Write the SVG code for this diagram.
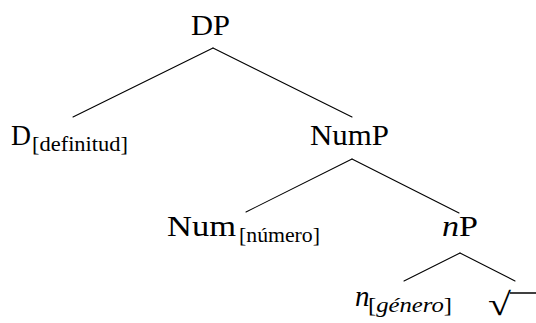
<svg xmlns="http://www.w3.org/2000/svg" width="536" height="323" viewBox="0 0 536 323">
<rect width="536" height="323" fill="#fff"/>
<g id="connectors" stroke="#000" stroke-width="1.1" fill="none" stroke-linecap="round">
  <line x1="213" y1="48" x2="73" y2="117"/>
  <line x1="213" y1="48" x2="352" y2="117"/>
  <line x1="352" y1="159" x2="246" y2="212"/>
  <line x1="352" y1="159" x2="459" y2="213"/>
  <line x1="460" y1="253" x2="404" y2="281"/>
  <line x1="460" y1="253" x2="515" y2="281"/>
</g>
<g font-family="Liberation Serif" fill="#000">
<g id="DP">
  <text font-size="29" x="191" y="35" textLength="39" lengthAdjust="spacingAndGlyphs">DP</text>
</g>
<g id="D">
  <text font-size="29" x="11" y="145" textLength="20" lengthAdjust="spacingAndGlyphs">D</text>
  <text font-size="20" x="32" y="151" textLength="96" lengthAdjust="spacingAndGlyphs">[definitud]</text>
</g>
<g id="NumP">
  <text font-size="29" x="310" y="145" textLength="79" lengthAdjust="spacingAndGlyphs">NumP</text>
</g>
<g id="Num">
  <text font-size="29" x="167" y="236" textLength="69" lengthAdjust="spacingAndGlyphs">Num</text>
  <text font-size="20" x="239" y="242" textLength="81" lengthAdjust="spacingAndGlyphs">[número]</text>
</g>
<g id="nP">
  <text font-size="29" x="442" y="236" textLength="36" lengthAdjust="spacingAndGlyphs"><tspan font-style="italic">n</tspan>P</text>
</g>
<g id="n">
  <text font-size="29" font-style="italic" x="355" y="306">n</text>
  <text font-size="22" x="368" y="312" textLength="84" lengthAdjust="spacingAndGlyphs">[<tspan font-style="italic">género</tspan>]</text>
</g>
<g id="root">
  <text font-size="32" x="488" y="315" textLength="23" lengthAdjust="spacingAndGlyphs">√</text>
  <line x1="510" y1="293" x2="536" y2="293" stroke="#000" stroke-width="1.5"/>
</g>
</g>
</svg>
